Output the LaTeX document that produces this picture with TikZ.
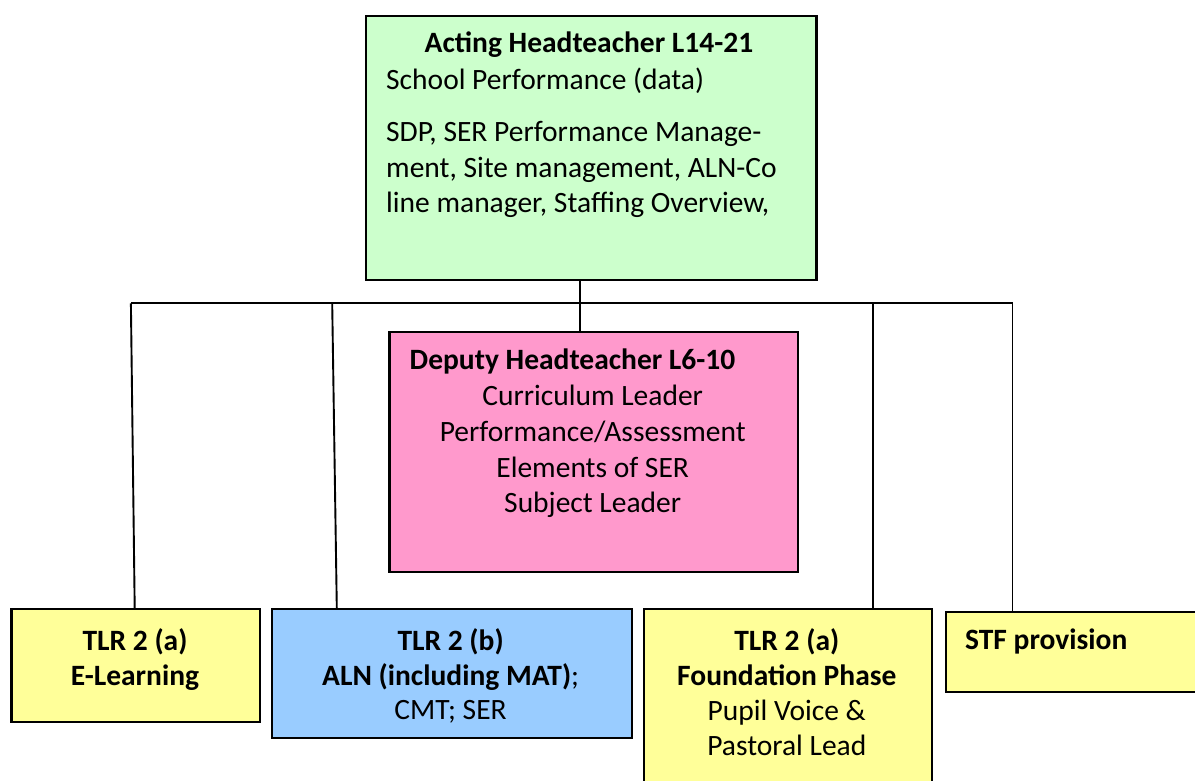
\documentclass[tikz,border=0pt]{standalone}
\usepackage{fontspec}
\setmainfont{Carlito}
\definecolor{hgreen}{HTML}{CCFFCC}
\definecolor{hpink}{HTML}{FF99CC}
\definecolor{hyellow}{HTML}{FFFF99}
\definecolor{hblue}{HTML}{99CCFF}
\begin{document}
\begin{tikzpicture}[x=1pt,y=-1pt,
  box/.style={draw=black, line width=2.4pt, inner sep=0pt, anchor=north west},
  wire/.style={draw=black, line width=1.9pt},
  txt/.style={inner sep=0pt, anchor=base, font=\fontsize{29.5pt}{35.4pt}\selectfont},
  txtl/.style={txt, anchor=base west}]
\useasboundingbox (0,0) rectangle (1195,781);
\clip (0,0) rectangle (1195,781);
% boxes
\node[box, fill=hgreen, minimum width=450.6pt, minimum height=264pt] (green) at (364.7,14.7) {};
\node[box, fill=hpink, minimum width=408.2pt, minimum height=240.3pt] (pink) at (388.4,330.7) {};
\node[box, fill=hyellow, minimum width=248.8pt, minimum height=113pt] (e1) at (10.2,608) {};
\node[box, fill=hblue, minimum width=360pt, minimum height=129pt] (e2) at (270.6,608) {};
\node[box, fill=hyellow, minimum width=288.4pt, minimum height=200pt] (e3) at (642.6,608) {};
\node[box, fill=hyellow, minimum width=300pt, minimum height=80pt] (e4) at (944.6,610.7) {};
% connectors
\coordinate (hub) at (580,303.3);
\coordinate (b1) at (130.9,303.3);
\coordinate (b2) at (332.2,303.3);
\coordinate (b3) at (873.2,303.3);
\coordinate (b4) at (1012.5,303.3);
\coordinate (t1) at (134.7,608);
\coordinate (t2) at (336.8,608);
\draw[wire] (b1) -- (b4);
\draw[wire] (green.south -| hub) -- (pink.north -| hub);
\draw[wire] (b1) -- (t1);
\draw[wire] (b2) -- (t2);
\draw[wire] (b3) -- (e3.north -| b3);
\draw[wire] (b4) -- (e4.north -| b4);
% green text
\node[txt] (g1) at (589,53) {\bfseries Acting Headteacher L14-21};
\node[txtl] (g2) at (386,90) {School Performance (data)};
\node[txtl] (g3) at (386,142) {SDP, SER Performance Manage-};
\node[txtl] (g4) at (386,177.5) {ment, Site management, ALN-Co};
\node[txtl] (g5) at (386,213) {line manager, Staffing Overview,};
% pink text
\node[txtl] (p1) at (409.5,369) {\bfseries Deputy Headteacher L6-10};
\node[txt] (p2) at (592.7,405) {Curriculum Leader};
\node[txt] (p3) at (592.7,441) {Performance/Assessment};
\node[txt] (p4) at (592.7,477) {Elements of SER};
\node[txt] (p5) at (592.7,512) {Subject Leader};
% bottom texts
\node[txt] (a1) at (135,650) {\bfseries TLR 2 (a)};
\node[txt] (a2) at (135,685) {\bfseries E-Learning};
\node[txt] (c1) at (450.6,650) {\bfseries TLR 2 (b)};
\node[txt] (c2) at (450.6,685) {\textbf{ALN (including MAT)};};
\node[txt] (c3) at (450.6,719) {CMT; SER};
\node[txt] (d1) at (786.8,650) {\bfseries TLR 2 (a)};
\node[txt] (d2) at (786.8,685) {\bfseries Foundation Phase};
\node[txt] (d3) at (786.8,720) {Pupil Voice \&};
\node[txt] (d4) at (786.8,755) {Pastoral Lead};
\node[txtl] (s1) at (965,649) {\bfseries STF provision};
\end{tikzpicture}
\end{document}
